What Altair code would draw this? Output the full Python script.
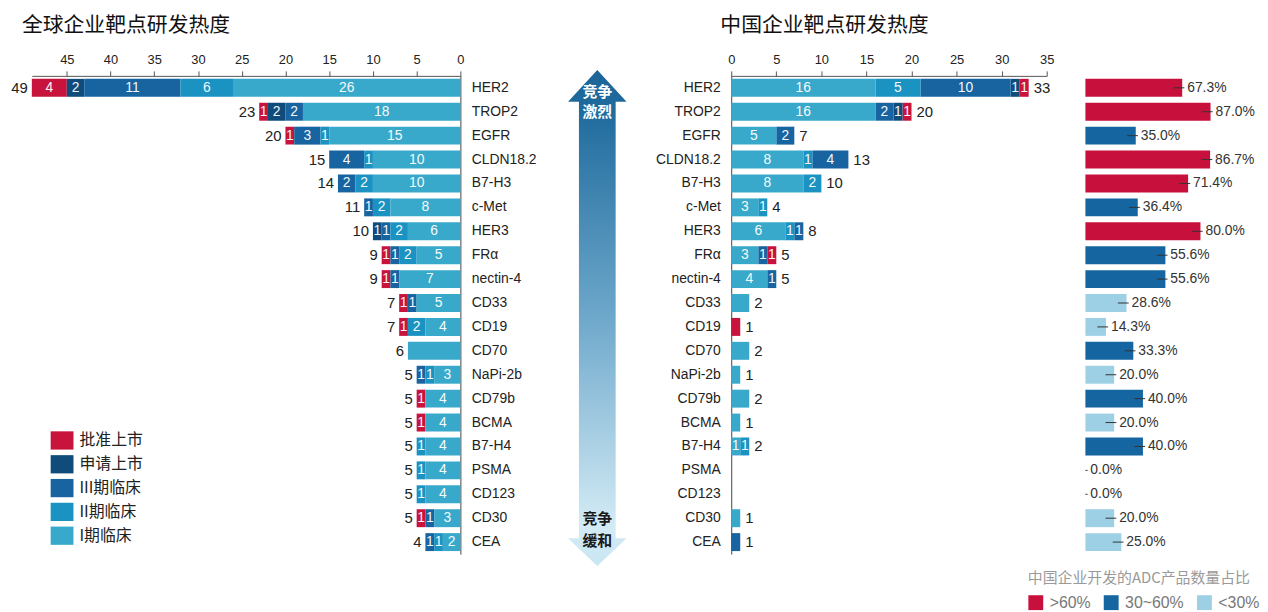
import altair as alt
import pandas as pd

targets = ["HER2", "TROP2", "EGFR", "CLDN18.2", "B7-H3", "c-Met", "HER3", "FRα", "nectin-4",
           "CD33", "CD19", "CD70", "NaPi-2b", "CD79b", "BCMA", "B7-H4", "PSMA", "CD123", "CD30", "CEA"]
stages = ["批准上市", "申请上市", "III期临床", "II期临床", "I期临床"]
stage_colors = ["#c8133d", "#0f4c7c", "#1764a0", "#1a92c2", "#38a9cb"]

# global companies
global_approved = [4, 1, 1, 0, 0, 0, 0, 1, 1, 1, 1, 0, 0, 1, 1, 0, 0, 0, 1, 0]
global_filed    = [2, 2, 0, 0, 0, 0, 1, 0, 0, 0, 0, 0, 0, 0, 0, 0, 0, 0, 0, 0]
global_p3       = [11, 2, 3, 4, 2, 1, 1, 1, 1, 1, 0, 0, 1, 0, 0, 0, 0, 0, 1, 1]
global_p2       = [6, 0, 1, 1, 2, 2, 2, 2, 0, 0, 2, 0, 1, 0, 0, 1, 1, 1, 0, 1]
global_p1       = [26, 18, 15, 10, 10, 8, 6, 5, 7, 5, 4, 6, 3, 4, 4, 4, 4, 4, 3, 2]

# chinese companies
china_approved = [1, 1, 0, 0, 0, 0, 0, 1, 0, 0, 1, 0, 0, 0, 0, 0, 0, 0, 0, 0]
china_filed    = [1, 1, 0, 0, 0, 0, 0, 0, 0, 0, 0, 0, 0, 0, 0, 0, 0, 0, 0, 0]
china_p3       = [10, 2, 2, 4, 0, 0, 1, 1, 1, 0, 0, 0, 0, 0, 0, 0, 0, 0, 0, 1]
china_p2       = [5, 0, 0, 1, 2, 1, 1, 0, 0, 0, 0, 0, 0, 0, 0, 1, 0, 0, 0, 0]
china_p1       = [16, 16, 5, 8, 8, 3, 6, 3, 4, 2, 0, 2, 1, 2, 1, 1, 0, 0, 1, 0]

china_share = [67.3, 87.0, 35.0, 86.7, 71.4, 36.4, 80.0, 55.6, 55.6, 28.6,
               14.3, 33.3, 20.0, 40.0, 20.0, 40.0, 0.0, 0.0, 20.0, 25.0]
share_cats = [">60%", "30~60%", "<30%"]
share_colors = ["#c8103c", "#1565a0", "#9dd0e5"]

FONT = "Liberation Sans, Arial, Noto Sans CJK SC, sans-serif"
CJK = "Noto Sans CJK SC, sans-serif"


def long_df(arrs):
    rows = []
    for i, t in enumerate(targets):
        for si, (s, arr) in enumerate(zip(stages, arrs)):
            rows.append({"target": t, "stage": s, "value": arr[i], "order": 4 - si})
    return pd.DataFrame(rows)


gdf = long_df([global_approved, global_filed, global_p3, global_p2, global_p1])
cdf = long_df([china_approved, china_filed, china_p3, china_p2, china_p1])

yscale = alt.Scale(domain=targets, paddingInner=0.25, paddingOuter=0.125)
rect_sym = "M-1,-0.8L1,-0.8L1,0.8L-1,0.8Z"


def stacked(df, side):
    left = side == "left"
    xs = alt.Scale(domain=[0, 49] if left else [0, 35], reverse=left, nice=False)
    xaxis = alt.Axis(orient="top", values=list(range(0, 50 if left else 40, 5)), labelFlush=False,
                     grid=False, tickSize=5, labelPadding=4, labelFontSize=13, labelColor="#222",
                     domainColor="#555", tickColor="#555")
    yaxis = alt.Axis(orient="right" if left else "left", ticks=False, labelPadding=11,
                     labelFontSize=14, labelColor="#222", domainColor="#444",
                     labelAlign="left" if left else "right")
    Y = alt.Y("target:N", scale=yscale, axis=yaxis, title=None)
    base = alt.Chart(df).transform_filter("datum.value > 0").transform_stack(
        stack="value", groupby=["target"], as_=["v0", "v1"],
        sort=[alt.SortField("order", order="ascending")])
    color_kwargs = dict(scale=alt.Scale(domain=stages, range=stage_colors))
    if left:
        leg = alt.Legend(title=None, orient="none", legendX=19, legendY=356, symbolType=rect_sym,
                         symbolSize=529, labelFontSize=16, labelColor="#222", labelOffset=6,
                         rowPadding=3, padding=0, symbolStrokeWidth=0, labelFont=CJK)
        color = alt.Color("stage:N", legend=leg, **color_kwargs)
    else:
        color = alt.Color("stage:N", legend=None, **color_kwargs)
    bars = base.mark_bar().encode(
        y=Y, x=alt.X("v0:Q", scale=xs, axis=xaxis, title=None), x2="v1:Q", color=color)
    seg = base.transform_joinaggregate(nseg="count()", groupby=["target"]).transform_filter(
        "datum.nseg > 1").transform_calculate(mid="(datum.v0 + datum.v1) / 2").mark_text(
        color="white", fontSize=14, opacity=0.95).encode(
        y=Y, x=alt.X("mid:Q", scale=xs, title=None), text="value:Q")
    tot = base.transform_aggregate(total="sum(value)", groupby=["target"]).mark_text(
        align="right" if left else "left", dx=-4 if left else 5, fontSize=15, color="#222").encode(
        y=Y, x=alt.X("total:Q", scale=xs, title=None), text="total:Q")
    title = alt.TitleParams("全球企业靶点研发热度" if left else "中国企业靶点研发热度", anchor="start",
                            frame="group", dx=-10 if left else -11, offset=18, fontSize=21,
                            fontWeight="normal", font=CJK, color="#111")
    return alt.layer(bars, seg, tot).properties(width=432 if left else 318, height=482, title=title)


left_chart = stacked(gdf, "left")
right_chart = stacked(cdf, "right")

# middle arrow
mid_df = pd.DataFrame({"k": [0]})
arrow_path = ("M0,-1L0.118,-0.872L0.074,-0.872L0.074,0.888L0.118,0.888L0,1L-0.118,0.888"
              "L-0.074,0.888L-0.074,-0.872L-0.118,-0.872Z")
grad = alt.LinearGradient(gradient="linear", x1=0, x2=0, y1=0, y2=1, stops=[
    alt.GradientStop(color="#1b6497", offset=0),
    alt.GradientStop(color="#1f6b9d", offset=0.08),
    alt.GradientStop(color="#6ea8cb", offset=0.5),
    alt.GradientStop(color="#d3ebf5", offset=0.92),
    alt.GradientStop(color="#c8e6f2", offset=1)])
arrow = alt.Chart(mid_df).mark_point(shape=arrow_path, size=250000, filled=True, fill=grad,
                                     opacity=1, strokeWidth=0).encode(
    x=alt.value(99), y=alt.value(244))
mid_texts = []
for txt, yy, col in [("竞争", 16, "white"), ("激烈", 36, "white"), ("竞争", 447, "#1a1a1a"), ("缓和", 469, "#1a1a1a")]:
    mid_texts.append(alt.Chart(mid_df).mark_text(text=txt, fontSize=15, fontWeight="bold", font=CJK,
                                                 color=col).encode(x=alt.value(99), y=alt.value(yy)))
mid_chart = alt.layer(arrow, *mid_texts).properties(width=195, height=482)

# share panel
pdf = pd.DataFrame({"target": targets, "pct": china_share})
pbase = alt.Chart(pdf).transform_calculate(
    cat="datum.pct > 60 ? '>60%' : (datum.pct >= 30 ? '30~60%' : '<30%')",
    lo="max(datum.pct - 6, 0)", hi="datum.pct + 1.5",
    label="format(datum.pct, '.1f') + '%'")
Yp = alt.Y("target:N", scale=yscale, axis=None, title=None)
pxs = alt.Scale(domain=[0, 100], nice=False)
pbars = pbase.mark_bar().encode(
    y=Yp, x=alt.X("pct:Q", scale=pxs, axis=None, title=None),
    color=alt.Color("cat:N", scale=alt.Scale(domain=share_cats, range=share_colors),
                    legend=alt.Legend(title="中国企业开发的ADC产品数量占比", orient="none", legendX=-58,
                                      legendY=499, direction="horizontal", titleOrient="top",
                                      titleAnchor="start", titleFontSize=15, titleColor="#9a9a9a",
                                      titleFontWeight="normal", titleFont=CJK, titlePadding=9,
                                      titleLimit=400, symbolType="square", symbolSize=225,
                                      labelFontSize=16, labelColor="#777", columnPadding=12,
                                      labelOffset=6, padding=0, symbolStrokeWidth=0,
                                      symbolOpacity=1, offset=0)))
prules = pbase.mark_rule(color="#333", strokeWidth=1).encode(
    y=Yp, x=alt.X("lo:Q", scale=pxs, title=None), x2="hi:Q")
plabels = pbase.mark_text(align="left", dx=5, fontSize=14, color="#333").encode(
    y=Yp, x=alt.X("pct:Q", scale=pxs, title=None), text="label:N")
pct_chart = alt.layer(pbars, prules, plabels).properties(width=145, height=482)

chart = alt.hconcat(left_chart, mid_chart, right_chart, pct_chart, spacing=39, bounds="flush").resolve_scale(
    color="independent").resolve_legend(color="independent").properties(
    padding={"left": 3, "top": 5, "right": 0, "bottom": 0}).configure(font=FONT).configure_view(
    strokeWidth=0, strokeOpacity=0)

chart.save("out.html", embed_options={"renderer": "svg", "actions": False})
